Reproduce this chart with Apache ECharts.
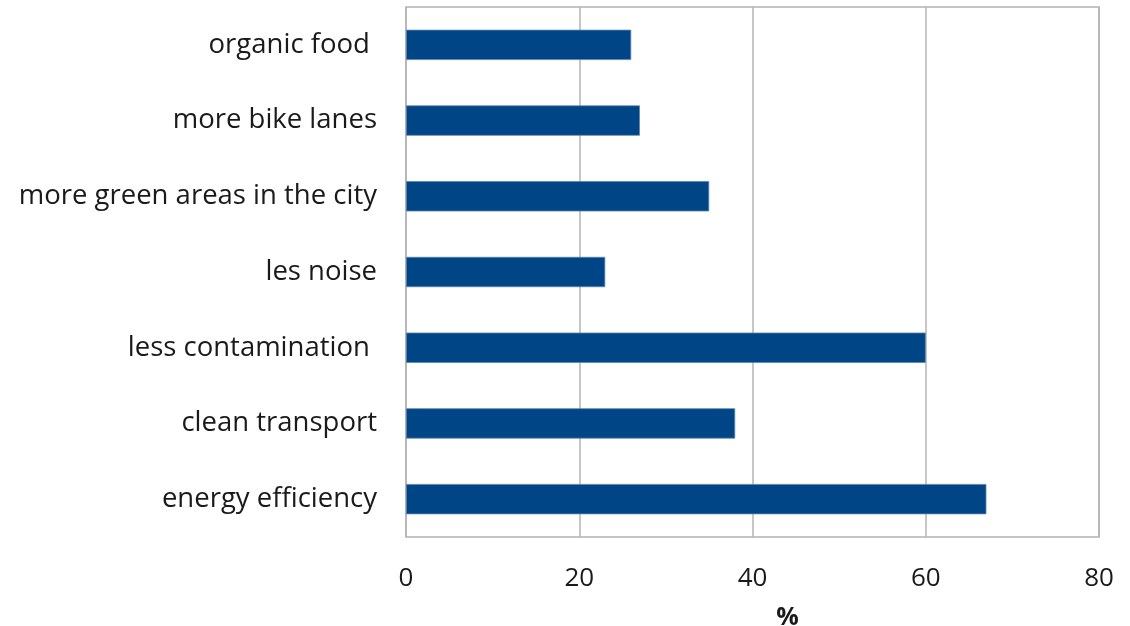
<!DOCTYPE html>
<html>
<head>
<meta charset="utf-8">
<script src="https://cdn.jsdelivr.net/npm/echarts@6/dist/echarts.min.js"></script>
<style>
  html, body { margin: 0; padding: 0; background: #ffffff; }
  #chart { width: 1130px; height: 626px; }
</style>
</head>
<body>
<div id="chart"></div>
<script>
// Categories listed bottom to top along the vertical axis
const categories = [
  'energy efficiency',
  'clean transport',
  'less contamination ',
  'les noise',
  'more green areas in the city',
  'more bike lanes',
  'organic food '
];
// Share of responses, percent
const shares = [67, 38, 60, 23, 35, 27, 26];
const xTicks = { min: 0, max: 80, interval: 20 };
const xAxisTitle = '%';

const FONT = '"Open Sans"';
const TEXT = '#1a1a1a';
const GRID = '#b3b3b3';

const chart = echarts.init(document.getElementById('chart'), null, { renderer: 'canvas' });
chart.setOption({
  animation: false,
  backgroundColor: '#ffffff',
  grid: {
    left: 406, right: 31, top: 7, bottom: 89,
    outerBoundsMode: 'none',
    containLabel: false,
    show: true, borderColor: GRID, borderWidth: 1.5, backgroundColor: 'transparent'
  },
  xAxis: {
    type: 'value',
    min: xTicks.min, max: xTicks.max, interval: xTicks.interval,
    name: xAxisTitle,
    nameLocation: 'middle',
    nameGap: 68,
    nameTextStyle: {
      fontFamily: FONT, fontSize: 25, fontWeight: 'bold', color: TEXT,
      padding: [0, 0, 0, 70]
    },
    axisLine: { show: false },
    axisTick: { show: false },
    axisLabel: { fontFamily: FONT, fontSize: 26, color: TEXT, margin: 29 },
    splitLine: { show: true, lineStyle: { color: GRID, width: 1.5 } }
  },
  yAxis: {
    type: 'category',
    data: categories,
    axisLine: { show: false },
    axisTick: { show: false },
    axisLabel: { fontFamily: FONT, fontSize: 27.5, color: TEXT, margin: 29, padding: [3, 0, 0, 0] },
    splitLine: { show: false }
  },
  series: [{
    type: 'bar',
    data: shares,
    barCategoryGap: '60%',
    itemStyle: { color: '#004586', borderColor: '#5b84ad', borderWidth: 0.8 }
  }]
});
</script>
</body>
</html>
